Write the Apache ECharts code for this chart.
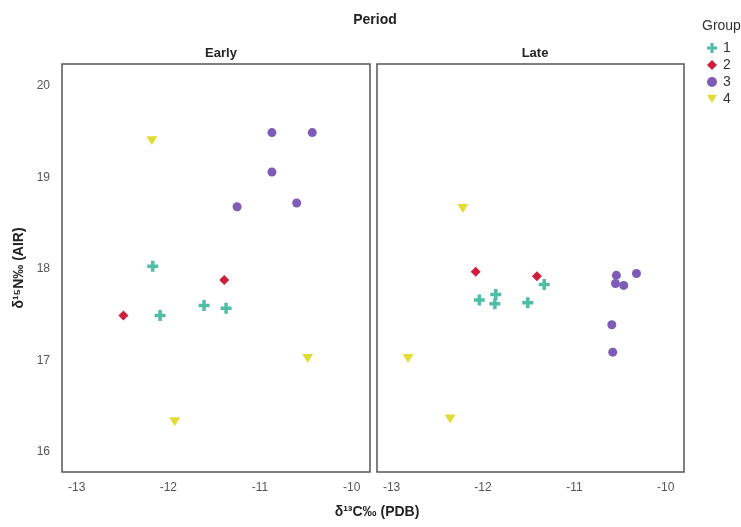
<!DOCTYPE html>
<html>
<head>
<meta charset="utf-8">
<script src="https://cdn.jsdelivr.net/npm/echarts@6/dist/echarts.min.js"></script>
<style>
  html, body { margin: 0; padding: 0; background: #fff; }
  #chart { width: 741px; height: 527px; }
</style>
</head>
<body>
<div id="chart"></div>
<script>
// values: [d13C, d15N]
const groups = ["1", "2", "3", "4"];
const periods = ["Early", "Late"];
const xTicks = [-13, -12, -11, -10];
const yTicks = [16, 17, 18, 19, 20];

const earlyGroup1 = [[-12.17, 18.03], [-12.09, 17.49], [-11.61, 17.60], [-11.37, 17.57]];
const earlyGroup2 = [[-12.49, 17.49], [-11.39, 17.88]];
const earlyGroup3 = [[-10.87, 19.49], [-10.43, 19.49], [-10.87, 19.06], [-11.25, 18.68], [-10.60, 18.72]];
const earlyGroup4 = [[-12.18, 19.40], [-10.48, 17.02], [-11.93, 16.33]];

const lateGroup1 = [[-12.04, 17.66], [-11.86, 17.72], [-11.87, 17.62], [-11.51, 17.63], [-11.33, 17.83]];
const lateGroup2 = [[-12.08, 17.97], [-11.41, 17.92]];
const lateGroup3 = [[-10.54, 17.93], [-10.32, 17.95], [-10.55, 17.84], [-10.46, 17.82], [-10.59, 17.39], [-10.58, 17.09]];
const lateGroup4 = [[-12.22, 18.66], [-12.82, 17.02], [-12.36, 16.36]];

const colors = ["#4fbea5", "#cf1f3c", "#7d5bb6", "#e2dc36"];
const symbols = [
  "path://M3.4,0H6.6V3.4H10V6.6H6.6V10H3.4V6.6H0V3.4H3.4Z",
  "diamond",
  "circle",
  "path://M0,0L10,0L5,8.5Z"
];
const sizes = [11, 10, 9, [11, 9]];

const font = "'Liberation Sans', Arial, sans-serif";
const dataByPeriod = [
  [earlyGroup1, earlyGroup2, earlyGroup3, earlyGroup4],
  [lateGroup1, lateGroup2, lateGroup3, lateGroup4]
];

const grids = [
  { left: 62, top: 64, width: 308, height: 408 },
  { left: 377, top: 64, width: 307, height: 408 }
].map((g) => ({ ...g, show: true, borderColor: "#555", borderWidth: 1.5, backgroundColor: "#fff" }));

const xAxes = grids.map((g, i) => ({
  type: "value",
  gridIndex: i,
  min: -13.16,
  max: -9.8,
  axisLine: { show: false },
  axisTick: { show: false },
  splitLine: { show: false },
  axisLabel: {
    customValues: xTicks,
    color: "#555",
    fontSize: 12,
    fontFamily: font,
    margin: 10
  }
}));

const yAxes = grids.map((g, i) => ({
  type: "value",
  gridIndex: i,
  min: 15.78,
  max: 20.24,
  axisLine: { show: false },
  axisTick: { show: false },
  splitLine: { show: false },
  axisLabel: {
    show: i === 0,
    customValues: yTicks,
    color: "#555",
    fontSize: 12,
    fontFamily: font,
    margin: 12
  },
  name: i === 0 ? "δ¹⁵N‰ (AIR)" : "",
  nameLocation: "middle",
  nameRotate: 90,
  nameGap: 36,
  nameTextStyle: { fontSize: 14, fontWeight: "bold", color: "#222", fontFamily: font }
}));

const series = [];
dataByPeriod.forEach((periodData, p) => {
  periodData.forEach((points, g) => {
    series.push({
      name: groups[g],
      type: "scatter",
      xAxisIndex: p,
      yAxisIndex: p,
      data: points,
      symbol: symbols[g],
      symbolSize: sizes[g],
      itemStyle: { color: colors[g], opacity: 1 },
      emphasis: { disabled: true }
    });
  });
});

const chart = echarts.init(document.getElementById("chart"));
chart.setOption({
  animation: false,
  backgroundColor: "#fff",
  title: [
    { text: "Period", left: 370, top: 8, textAlign: "center",
      textStyle: { fontSize: 14, fontWeight: "bold", color: "#222", fontFamily: font } },
    { text: periods[0], left: 216, top: 42, textAlign: "center",
      textStyle: { fontSize: 13, fontWeight: "bold", color: "#222", fontFamily: font } },
    { text: periods[1], left: 530, top: 42, textAlign: "center",
      textStyle: { fontSize: 13, fontWeight: "bold", color: "#222", fontFamily: font } },
    { text: "Group", left: 697, top: 14,
      textStyle: { fontSize: 14, fontWeight: "normal", color: "#333", fontFamily: font } },
    { text: "δ¹³C‰ (PDB)", left: 372, top: 500, textAlign: "center",
      textStyle: { fontSize: 14, fontWeight: "bold", color: "#222", fontFamily: font } }
  ],
  legend: {
    data: groups,
    orient: "vertical",
    left: 707,
    top: 41,
    itemWidth: 10,
    itemHeight: 10,
    itemGap: 3,
    padding: 0,
    selectedMode: false,
    textStyle: { fontSize: 14, color: "#333", fontFamily: font, padding: [0, 0, 0, 1] }
  },
  grid: grids,
  xAxis: xAxes,
  yAxis: yAxes,
  series: series
});
</script>
</body>
</html>
